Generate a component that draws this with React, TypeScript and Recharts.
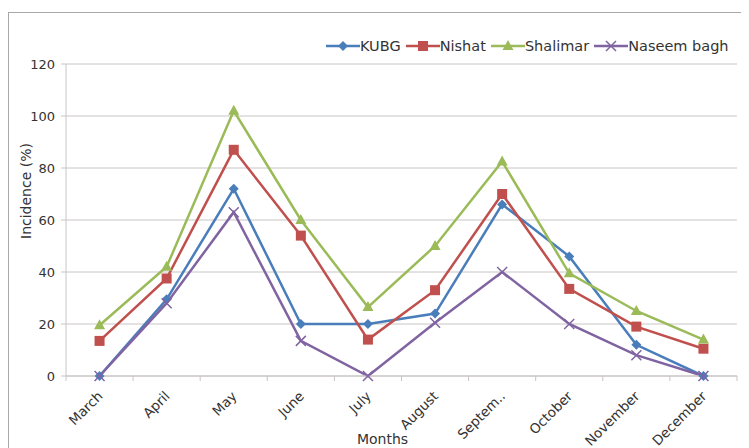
import { LineChart, Line, XAxis, YAxis, CartesianGrid, Legend } from "recharts";

const months = ["March", "April", "May", "June", "July", "August", "Septem..", "October", "November", "December"];
const kubg = [0, 29.5, 72, 20, 20, 24, 66, 46, 12, 0];
const nishat = [13.5, 37.5, 87, 54, 14, 33, 70, 33.5, 19, 10.5];
const shalimar = [19.5, 42, 102, 60, 26.5, 50, 82.5, 39.5, 25, 14];
const naseem = [0, 28, 63, 13.5, 0, 20.5, 40, 20, 8, 0];
const yTicks = [0, 20, 40, 60, 80, 100, 120];

const series = [
  { key: "KUBG", values: kubg, color: "#4a7ebb", marker: "diamond" },
  { key: "Nishat", values: nishat, color: "#c0504d", marker: "square" },
  { key: "Shalimar", values: shalimar, color: "#9bbb59", marker: "triangle" },
  { key: "Naseem bagh", values: naseem, color: "#8064a2", marker: "x" }
];

const data = months.map((m, i) => {
  const row: Record<string, number | string> = { idx: i, month: m };
  series.forEach(s => (row[s.key] = s.values[i]));
  return row;
});

const labelTicks = months.map((_, i) => i);
const markTicks = months.map((_, i) => i - 0.5).concat(months.length - 0.5);

const FONT = "'DejaVu Sans', sans-serif";
const GRID = "#c9c4c4";

const Marker = ({ kind, cx, cy, color }: { kind: string; cx: number; cy: number; color: string }) => {
  if (kind === "diamond")
    return <path d={`M${cx},${cy - 5}L${cx + 5},${cy}L${cx},${cy + 5}L${cx - 5},${cy}Z`} fill={color} />;
  if (kind === "square") return <rect x={cx - 5} y={cy - 5} width={10} height={10} fill={color} />;
  if (kind === "triangle")
    return <path d={`M${cx},${cy - 6}L${cx + 5.5},${cy + 4}L${cx - 5.5},${cy + 4}Z`} fill={color} />;
  return (
    <path
      d={`M${cx - 5},${cy - 5}L${cx + 5},${cy + 5}M${cx + 5},${cy - 5}L${cx - 5},${cy + 5}`}
      stroke={color}
      strokeWidth={1.5}
      fill="none"
    />
  );
};

const makeDot = (kind: string, color: string) => (p: any) =>
  <Marker key={`${kind}-${p.index}`} kind={kind} cx={p.cx} cy={p.cy} color={color} />;

const MonthTick = (p: any) => (
  <g transform={`translate(${p.x},${p.y})`}>
    <text x={0} y={0} dx={4} dy={20} textAnchor="end" transform="rotate(-45, 4, 20)" fontSize={13.5} fontFamily={FONT} fill="#333">
      {months[p.payload.value]}
    </text>
  </g>
);

const LegendBox = () => (
  <div style={{ display: "flex", alignItems: "center", fontFamily: FONT, fontSize: 14.5, color: "#333", whiteSpace: "nowrap" }}>
    {series.map(s => (
      <div key={s.key} style={{ display: "flex", alignItems: "center", marginRight: 5 }}>
        <svg width={34} height={14}>
          <line x1={0} y1={7} x2={34} y2={7} stroke={s.color} strokeWidth={2.5} />
          <Marker kind={s.marker} cx={17} cy={7} color={s.color} />
        </svg>
        <span>{s.key}</span>
      </div>
    ))}
  </div>
);

export default function App() {
  return (
    <div style={{ paddingTop: 4 }}>
      <div style={{ borderTop: "1px solid #a8a8a8", borderLeft: "1px solid #a8a8a8", width: 740, height: 435 }}>
        <LineChart width={740} height={435} data={data} margin={{ top: 51, right: 12, left: 0, bottom: 4 }}>
          <CartesianGrid vertical={false} stroke={GRID} />
          <XAxis
            type="number"
            dataKey="idx"
            domain={[-0.5, months.length - 0.5]}
            ticks={markTicks}
            interval={0}
            tickFormatter={() => ""}
            tickSize={5}
            height={1}
            stroke={GRID}
          />
          <XAxis
            xAxisId="labels"
            type="number"
            dataKey="idx"
            domain={[-0.5, months.length - 0.5]}
            ticks={labelTicks}
            interval={0}
            tick={<MonthTick />}
            tickSize={0}
            tickMargin={0}
            axisLine={false}
            tickLine={false}
            height={67}
            label={{ value: "Months", position: "insideBottom", offset: 0, dx: -19, fontSize: 14, fontFamily: FONT, fill: "#333" }}
          />
          <YAxis
            domain={[0, 120]}
            ticks={yTicks}
            interval={0}
            width={57}
            tickSize={5}
            tickMargin={6}
            stroke={GRID}
            tick={{ fontSize: 13, fontFamily: FONT, fill: "#333" }}
            label={{ value: "Incidence (%)", angle: -90, position: "center", dx: -11, dy: -29, fontSize: 14, fontFamily: FONT, fill: "#333" }}
          />
          <Legend
            layout="horizontal"
            verticalAlign="middle"
            align="center"
            wrapperStyle={{ top: 25, left: 317, width: "auto" }}
            content={<LegendBox />}
          />
          {series.map(s => (
            <Line
              key={s.key}
              dataKey={s.key}
              stroke={s.color}
              strokeWidth={2.5}
              dot={makeDot(s.marker, s.color)}
              activeDot={false}
              isAnimationActive={false}
            />
          ))}
        </LineChart>
      </div>
    </div>
  );
}
